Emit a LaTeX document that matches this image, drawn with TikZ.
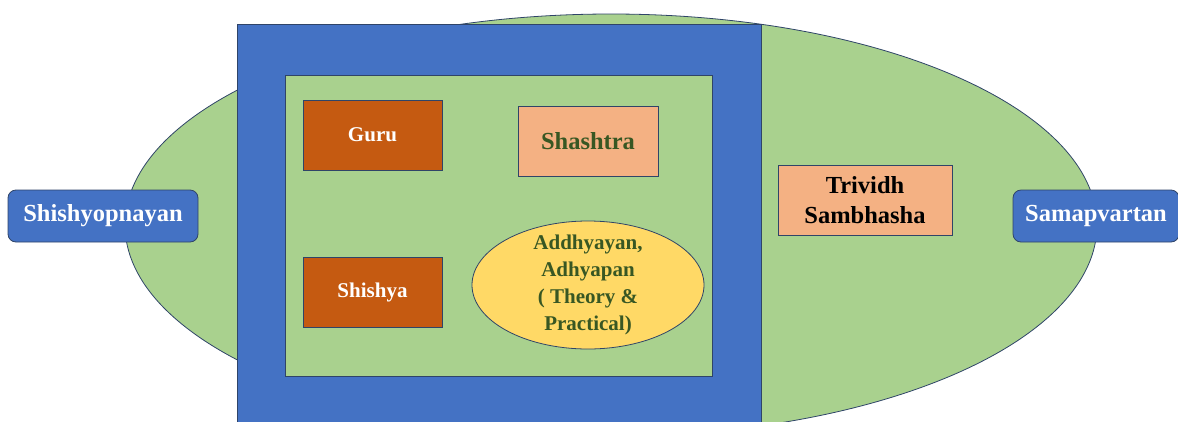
\documentclass[tikz,border=0pt]{standalone}
\usepackage{fontspec}
\setmainfont{Liberation Serif}
\usetikzlibrary{shapes.geometric}

\definecolor{pptblue}{HTML}{4472C4}
\definecolor{pptgreen}{HTML}{A9D18E}
\definecolor{pptrust}{HTML}{C55A11}
\definecolor{pptpeach}{HTML}{F4B183}
\definecolor{pptyellow}{HTML}{FFD966}
\definecolor{pptline}{HTML}{2F4468}
\definecolor{pptdkgreen}{HTML}{385723}

\begin{document}
\begin{tikzpicture}[x=1pt,y=-1pt,
    every node/.style={inner sep=0pt, font=\bfseries},
    outlined/.style={draw=pptline, line width=0.8pt}]

    \useasboundingbox (0,0) rectangle (1178,421);
    \clip (0,0) rectangle (1178,421);

    \node[ellipse,
          outlined,
          fill = pptgreen,
          minimum width = 972,
          minimum height = 422
          ] (stay) at (611,225) {};

    \node[rectangle,
          outlined,
          fill = pptblue,
          minimum width = 524,
          minimum height = 524
          ] (gurukul) at (499,286) {};

    \node[rectangle,
          outlined,
          fill = pptgreen,
          minimum width = 427,
          minimum height = 301
          ] (ashram) at (498.5,225.5) {};

    \node[rectangle,
          outlined,
          fill = pptrust,
          minimum width = 139,
          minimum height = 70
          ] (guru) at (372.5,135) {};
    \node[text=white, font=\bfseries\fontsize{21}{26}\selectfont] (guru-txt) at (guru.center) {Guru};

    \node[rectangle,
          outlined,
          fill = pptrust,
          minimum width = 139,
          minimum height = 70
          ] (shishya) at (372.5,292) {};
    \node[text=white, font=\bfseries\fontsize{21}{26}\selectfont] (shishya-txt) at (shishya.center) {Shishya};

    \node[rectangle,
          outlined,
          fill = pptpeach,
          minimum width = 140,
          minimum height = 70
          ] (shashtra) at (588,141) {};
    \node[text=pptdkgreen, font=\bfseries\fontsize{24.5}{30}\selectfont] (shashtra-txt) at (shashtra.center) {Shashtra};

    \node[ellipse,
          outlined,
          fill = pptyellow,
          minimum width = 232,
          minimum height = 128
          ] (study) at (588,285) {};
    \node[text=pptdkgreen, align=center,
          font=\bfseries\fontsize{21}{27}\selectfont] (study-txt) at (study.center)
          {Addhyayan,\\Adhyapan\\( Theory \&\\Practical)};

    \node[rectangle,
          outlined,
          fill = pptpeach,
          minimum width = 174,
          minimum height = 70
          ] (trividh) at (865,200) {};
    \node[text=black, align=center,
          font=\bfseries\fontsize{24.5}{30}\selectfont] (trividh-txt) at (trividh.center)
          {Trividh\\Sambhasha};

    \node[rectangle,
          rounded corners = 8,
          outlined,
          fill = pptblue,
          minimum width = 190,
          minimum height = 52
          ] (start) at (103,216) {};
    \node[text=white, font=\bfseries\fontsize{24.5}{30}\selectfont] (start-txt) at (start.center) {Shishyopnayan};

    \node[rectangle,
          rounded corners = 8,
          outlined,
          fill = pptblue,
          minimum width = 166,
          minimum height = 52
          ] (finish) at (1096,216) {};
    \node[text=white, font=\bfseries\fontsize{24.5}{30}\selectfont] (finish-txt) at (finish.center) {Samapvartan};

\end{tikzpicture}
\end{document}
